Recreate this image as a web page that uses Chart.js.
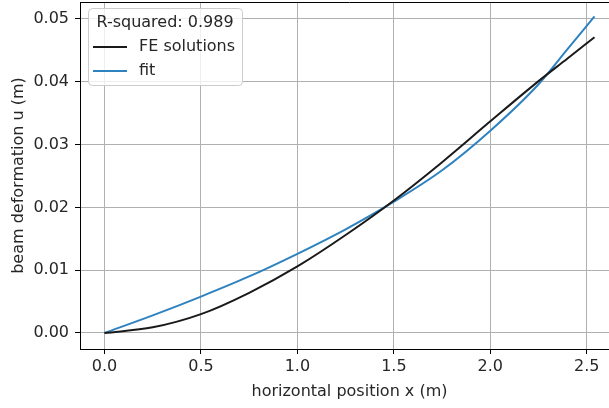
<!DOCTYPE html>
<html>
<head>
<meta charset="utf-8">
<script src="https://cdn.jsdelivr.net/npm/chart.js@4/dist/chart.umd.min.js"></script>
<style>
  html, body { margin: 0; padding: 0; background: #fff; overflow: hidden; }
  #wrap { width: 620px; height: 408px; }
</style>
</head>
<body>
<div id="wrap"><canvas id="c" width="620" height="408"></canvas></div>
<script>
// ---- data ----
const xPositions = [0, 0.25, 0.5, 0.75, 1.0, 1.25, 1.5, 1.75, 2.0, 2.25, 2.4, 2.54];
const feSolutions = [0, 0.0009, 0.0030, 0.0064, 0.0106, 0.0156, 0.0211, 0.0272, 0.0337, 0.0401, 0.0437, 0.0471];
const fitValues   = [0, 0.0028, 0.0058, 0.0090, 0.0126, 0.0165, 0.0209, 0.0259, 0.0322, 0.0396, 0.0452, 0.0504];
const xTicks = [0, 0.5, 1.0, 1.5, 2.0, 2.5];
const yTicks = [0, 0.01, 0.02, 0.03, 0.04, 0.05];
const seriesLabels = ['FE solutions', 'fit'];
const legendTitle = 'R-squared: 0.989';
const xTitle = 'horizontal position x (m)';
const yTitle = 'beam deformation u (m)';

const FONT = 'DejaVu Sans';
const FS = 16;
const TXT = '#262626';

const topSpine = {
  id: 'topSpine',
  afterDatasetsDraw(chart) {
    const {ctx, chartArea: a} = chart;
    ctx.save();
    ctx.strokeStyle = '#000';
    ctx.lineWidth = 1;
    ctx.beginPath();
    ctx.moveTo(a.left, a.top + 0.5);
    ctx.lineTo(a.right, a.top + 0.5);
    ctx.stroke();
    ctx.restore();
  }
};

const boxLegend = {
  id: 'boxLegend',
  afterDraw(chart) {
    const {ctx, chartArea: a} = chart;
    const x0 = a.left + 8, y0 = a.top + 6, w = 154, h = 77, r = 4;
    ctx.save();
    ctx.beginPath();
    ctx.roundRect(x0 + 0.5, y0 + 0.5, w, h, r);
    ctx.fillStyle = 'rgba(255,255,255,0.8)';
    ctx.fill();
    ctx.strokeStyle = '#cccccc';
    ctx.lineWidth = 1;
    ctx.stroke();
    ctx.font = FS + 'px "' + FONT + '"';
    ctx.fillStyle = TXT;
    ctx.textBaseline = 'middle';
    ctx.textAlign = 'center';
    ctx.fillText(legendTitle, x0 + w / 2, y0 + 15);
    ctx.textAlign = 'left';
    chart.data.datasets.forEach((ds, i) => {
      const yy = y0 + 39 + i * 24;
      ctx.strokeStyle = ds.borderColor;
      ctx.lineWidth = ds.borderWidth;
      ctx.beginPath();
      ctx.moveTo(x0 + 5, yy);
      ctx.lineTo(x0 + 39, yy);
      ctx.stroke();
      ctx.fillStyle = TXT;
      ctx.fillText(ds.label, x0 + 51, yy);
    });
    ctx.restore();
  }
};

new Chart(document.getElementById('c'), {
  type: 'line',
  data: {
    datasets: [
      {
        label: seriesLabels[0],
        data: xPositions.map((x, i) => ({x: x, y: feSolutions[i]})),
        borderColor: '#1a1a1a',
        borderWidth: 2,
        pointRadius: 0,
        cubicInterpolationMode: 'monotone',
        fill: false
      },
      {
        label: seriesLabels[1],
        data: xPositions.map((x, i) => ({x: x, y: fitValues[i]})),
        borderColor: '#2f82c0',
        borderWidth: 2,
        pointRadius: 0,
        cubicInterpolationMode: 'monotone',
        fill: false
      }
    ]
  },
  options: {
    responsive: false,
    animation: false,
    layout: { padding: { top: 2, right: 1, left: 0, bottom: 0 } },
    plugins: { legend: { display: false }, tooltip: { enabled: false } },
    scales: {
      x: {
        type: 'linear',
        min: -0.127,
        max: 2.667,
        afterBuildTicks: s => { s.ticks = xTicks.map(v => ({value: v})); },
        afterFit: s => { s.height = 59; s.paddingLeft = 0; s.paddingRight = 0; },
        ticks: {
          callback: v => v.toFixed(1),
          font: { family: FONT, size: FS },
          color: TXT,
          padding: 3,
          maxRotation: 0
        },
        grid: { color: '#b0b0b0', lineWidth: 1, tickColor: '#000', tickLength: 5, drawTicks: true },
        border: { color: '#000', width: 1 },
        title: { display: true, text: xTitle, font: { family: FONT, size: FS }, color: TXT, padding: { top: 0, bottom: 7 } }
      },
      y: {
        type: 'linear',
        min: -0.00255,
        max: 0.0527,
        afterBuildTicks: s => { s.ticks = yTicks.map(v => ({value: v})); },
        afterFit: s => { s.width = 80; s.paddingTop = 0; s.paddingBottom = 0; },
        ticks: {
          callback: v => v.toFixed(2),
          font: { family: FONT, size: FS },
          color: TXT,
          padding: 6
        },
        grid: { color: '#b0b0b0', lineWidth: 1, tickColor: '#000', tickLength: 5, drawTicks: true },
        border: { color: '#000', width: 1 },
        title: { display: true, text: yTitle, font: { family: FONT, size: FS }, color: TXT, padding: { top: 9, bottom: 0 } }
      }
    }
  },
  plugins: [topSpine, boxLegend]
});
</script>
</body>
</html>
